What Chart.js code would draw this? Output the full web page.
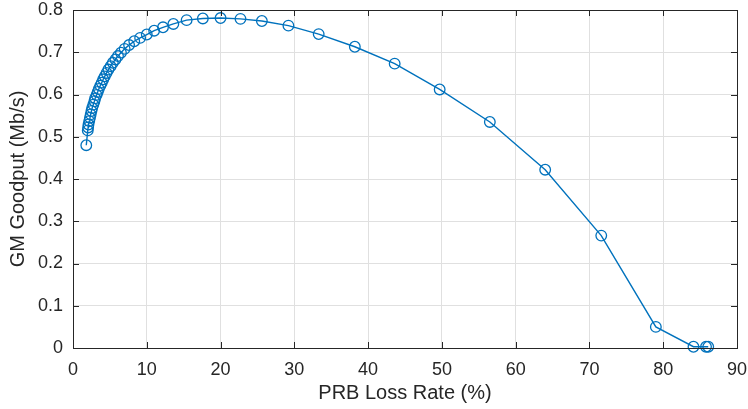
<!DOCTYPE html>
<html>
<head>
<meta charset="utf-8">
<script src="https://cdn.jsdelivr.net/npm/chart.js@4/dist/chart.umd.min.js"></script>
<style>
  html, body { margin: 0; padding: 0; background: #ffffff; }
  #wrap { width: 748px; height: 409px; }
</style>
</head>
<body>
<div id="wrap"><canvas id="c" width="748" height="409"></canvas></div>
<script>
// PRB loss rate (%) for each operating point
const lossRate = [
  1.8, 2.0, 2.05, 2.1, 2.2, 2.3, 2.4, 2.5, 2.6, 2.75,
  2.9, 3.0, 3.2, 3.35, 3.5, 3.7, 3.9, 4.1, 4.3, 4.55,
  4.8, 5.1, 5.4, 5.75, 6.1, 6.5, 7.0, 7.6, 8.3, 9.1,
  10.0, 11.0, 12.2, 13.6, 15.4, 17.6, 20.0, 22.7, 25.6, 29.2,
  33.3, 38.2, 43.6, 49.7, 56.5, 64.0, 71.6, 79.0, 84.1, 85.8, 86.1
];
// GM goodput (Mb/s) at each operating point
const goodput = [
  0.480, 0.515, 0.522, 0.529, 0.537, 0.545, 0.553, 0.561, 0.568, 0.576,
  0.584, 0.591, 0.599, 0.606, 0.613, 0.621, 0.628, 0.636, 0.643, 0.651,
  0.659, 0.667, 0.675, 0.683, 0.691, 0.699, 0.708, 0.717, 0.726, 0.734,
  0.742, 0.751, 0.759, 0.767, 0.776, 0.780, 0.781, 0.779, 0.774, 0.763,
  0.743, 0.713, 0.673, 0.612, 0.535, 0.422, 0.266, 0.050, 0.003, 0.003, 0.003
];
// Axis ticks
const xTicks = [0, 10, 20, 30, 40, 50, 60, 70, 80, 90];
const yTicks = [0, 0.1, 0.2, 0.3, 0.4, 0.5, 0.6, 0.7, 0.8];

const axisColor = '#262626';
const gridColor = '#e0e0e0';
const lineColor = '#0072BD';
const fontFamily = '"Liberation Sans", Arial, Helvetica, sans-serif';

const points = lossRate.map((x, i) => ({ x: x, y: goodput[i] }));

// Box around the plot area with inward ticks on all four sides
const boxPlugin = {
  id: 'boxTicks',
  afterDatasetsDraw(chart) {
    const { ctx, chartArea: a, scales } = chart;
    const tl = 6;
    ctx.save();
    ctx.strokeStyle = axisColor;
    ctx.lineWidth = 1;
    ctx.beginPath();
    xTicks.forEach(v => {
      const px = Math.round(scales.x.getPixelForValue(v)) + 0.5;
      ctx.moveTo(px, a.bottom); ctx.lineTo(px, a.bottom - tl);
      ctx.moveTo(px, a.top); ctx.lineTo(px, a.top + tl);
    });
    yTicks.forEach(v => {
      const py = Math.round(scales.y.getPixelForValue(v)) + 0.5;
      ctx.moveTo(a.left, py); ctx.lineTo(a.left + tl, py);
      ctx.moveTo(a.right, py); ctx.lineTo(a.right - tl, py);
    });
    ctx.stroke();
    ctx.strokeRect(Math.round(a.left) + 0.5, Math.round(a.top) + 0.5,
                   Math.round(a.right - a.left), Math.round(a.bottom - a.top));
    ctx.restore();
  }
};

new Chart(document.getElementById('c'), {
  type: 'scatter',
  data: {
    datasets: [{
      data: points,
      showLine: true,
      borderColor: lineColor,
      borderWidth: 1.4,
      pointStyle: 'circle',
      pointRadius: 5.3,
      pointHoverRadius: 5.3,
      pointBorderWidth: 1.3,
      pointBorderColor: lineColor,
      pointBackgroundColor: 'rgba(0,0,0,0)',
      tension: 0,
      clip: false
    }]
  },
  options: {
    responsive: false,
    animation: false,
    events: [],
    layout: { padding: { top: 10, right: 11, left: 0, bottom: 0 } },
    plugins: { legend: { display: false }, tooltip: { enabled: false } },
    scales: {
      x: {
        type: 'linear',
        min: 0, max: 90,
        afterBuildTicks: s => { s.ticks = xTicks.map(v => ({ value: v })); },
        afterFit: s => { s.height = 61; s.paddingLeft = 0; s.paddingRight = 0; },
        grid: { color: gridColor, drawTicks: false, lineWidth: 1 },
        border: { display: false },
        ticks: {
          color: axisColor,
          padding: 11,
          maxRotation: 0,
          font: { family: fontFamily, size: 18 },
          callback: v => String(v)
        },
        title: {
          display: true,
          text: 'PRB Loss Rate (%)',
          color: axisColor,
          font: { family: fontFamily, size: 20 },
          padding: { top: 0, bottom: 3.5 }
        }
      },
      y: {
        type: 'linear',
        min: 0, max: 0.8,
        afterBuildTicks: s => { s.ticks = yTicks.map(v => ({ value: v })); },
        afterFit: s => { s.width = 73; s.paddingTop = 0; s.paddingBottom = 0; },
        grid: { color: gridColor, drawTicks: false, lineWidth: 1 },
        border: { display: false },
        ticks: {
          color: axisColor,
          padding: 10,
          font: { family: fontFamily, size: 18 },
          callback: v => (v === 0 ? '0' : v.toFixed(1))
        },
        title: {
          display: true,
          text: 'GM Goodput (Mb/s)',
          color: axisColor,
          font: { family: fontFamily, size: 20 },
          padding: { top: 6.5, bottom: 0 }
        }
      }
    }
  },
  plugins: [boxPlugin]
});
</script>
</body>
</html>
